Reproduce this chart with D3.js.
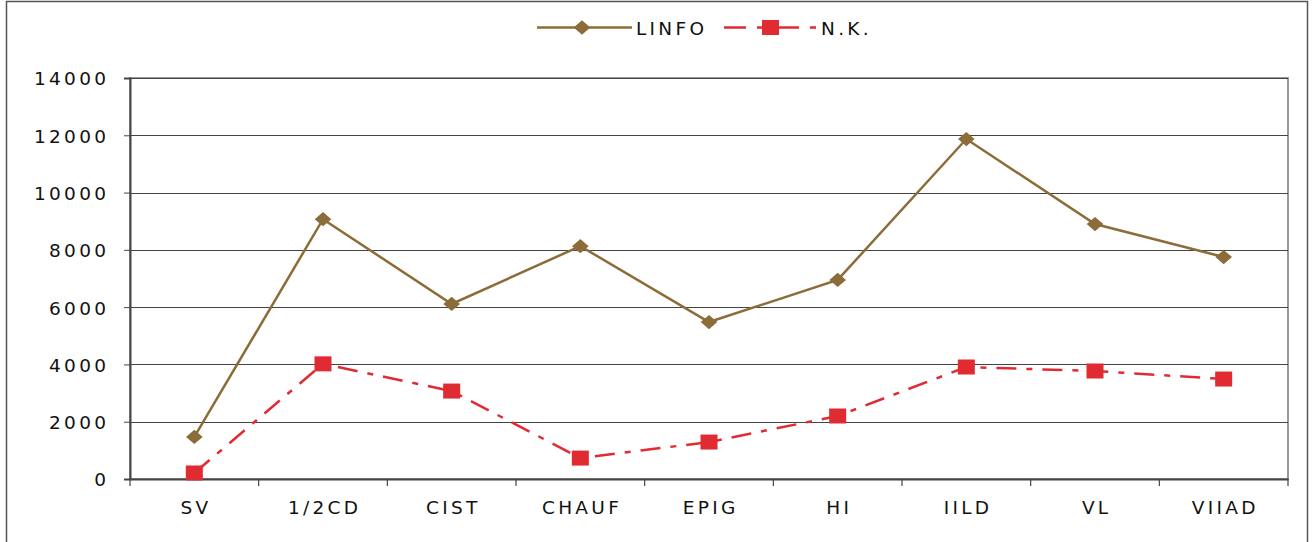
<!DOCTYPE html>
<html><head><meta charset="utf-8">
<script src="https://cdn.jsdelivr.net/npm/d3@7"></script>
<style>body{margin:0;background:#fff}svg{display:block}text{font-family:"DejaVu Sans",Verdana,sans-serif;fill:#111}</style>
</head><body><svg id="c" width="1313" height="542"></svg>
<script>
const categories = ["SV","1/2CD","CIST","CHAUF","EPIG","HI","IILD","VL","VIIAD"];
const linfo = [1470, 9070, 6110, 8130, 5480, 6950, 11870, 8900, 7750];
const nk = [210, 4020, 3070, 730, 1290, 2200, 3910, 3770, 3490];
const yTicks = [0, 2000, 4000, 6000, 8000, 10000, 12000, 14000];
const seriesNames = ["LINFO", "N.K."];

const svg = d3.select("#c");
const L = 130, R = 1288, T = 78, B = 479;
const FS = "18.5px", LS = 3.3;
const x = d3.scaleBand().domain(categories).range([L, R]);
const y = d3.scaleLinear().domain([0, 14000]).range([B, T]);
const brown = "#8c6c38", red = "#e02b33";

// outer border
svg.append("rect").attr("x",6.5).attr("y",1.5).attr("width",1301).attr("height",545).attr("fill","none").attr("stroke","#555").attr("stroke-width",1.5);

// plot frame
svg.append("rect").attr("x",L).attr("y",T).attr("width",R-L).attr("height",B-T).attr("fill","none").attr("stroke","#999").attr("stroke-width",2);

// gridlines
svg.append("g").selectAll("line").data(yTicks.filter(d=>d>0)).join("line")
  .attr("x1",L).attr("x2",R).attr("y1",d=>Math.round(y(d))+0.5).attr("y2",d=>Math.round(y(d))+0.5)
  .attr("stroke","#444").attr("stroke-width",1.2);

// y axis
const yAxis = svg.append("g").attr("transform",`translate(${L},0)`)
  .call(d3.axisLeft(y).tickValues(yTicks).tickSize(6).tickPadding(18 - LS).tickFormat(d3.format("d")));
yAxis.select(".domain").attr("stroke","#444").attr("stroke-width",2);
yAxis.selectAll(".tick line").attr("stroke","#444");
yAxis.selectAll("text").style("font-size",FS).style("letter-spacing",LS+"px").style("font-family",'"DejaVu Sans",Verdana,sans-serif').attr("fill","#111").attr("dy","0.37em");

// x axis
const xAxis = svg.append("g").attr("transform",`translate(0,${B})`)
  .call(d3.axisBottom(x).tickSize(0).tickPadding(22));
xAxis.select(".domain").attr("stroke","#444").attr("stroke-width",2);
xAxis.selectAll("text").style("font-size",FS).style("letter-spacing",LS+"px").style("font-family",'"DejaVu Sans",Verdana,sans-serif').attr("fill","#111").attr("dx",LS/2);
const bounds = categories.map(c=>x(c)).concat([R]);
svg.append("g").selectAll("line").data(bounds).join("line")
  .attr("x1",d=>d).attr("x2",d=>d).attr("y1",B).attr("y2",B+7).attr("stroke","#444").attr("stroke-width",1.2);

const cx = c => x(c) + x.bandwidth()/2;
const line = d3.line().x((d,i)=>cx(categories[i])).y(d=>y(d));

svg.append("path").datum(linfo).attr("d",line).attr("fill","none").attr("stroke",brown).attr("stroke-width",2.5);
svg.append("path").datum(nk).attr("d",line).attr("fill","none").attr("stroke",red).attr("stroke-width",2.5).attr("stroke-dasharray","20,10,6,10");

const diamond = d3.symbol().type(d3.symbolDiamond2).size(160);
svg.append("g").selectAll("path").data(linfo).join("path")
  .attr("transform",(d,i)=>`translate(${cx(categories[i])},${y(d)}) scale(1.05,0.9)`).attr("d",diamond()).attr("fill",brown);
svg.append("g").selectAll("rect").data(nk).join("rect")
  .attr("x",(d,i)=>cx(categories[i])-8.5).attr("y",d=>y(d)-7.5).attr("width",17).attr("height",15).attr("fill",red);

// legend
const lg = svg.append("g");
lg.append("line").attr("x1",537).attr("x2",632).attr("y1",27.5).attr("y2",27.5).attr("stroke",brown).attr("stroke-width",2.5);
lg.append("path").attr("transform","translate(582,27.5) scale(1.05,0.9)").attr("d",diamond()).attr("fill",brown);
lg.append("text").attr("x",636).attr("y",27.5).attr("dy","0.38em").style("font-size",FS).style("letter-spacing",LS+"px").text(seriesNames[0]);
lg.append("line").attr("x1",724).attr("x2",816).attr("y1",27.5).attr("y2",27.5).attr("stroke",red).attr("stroke-width",2.5).attr("stroke-dasharray","22,11,42,11,7");
lg.append("rect").attr("x",762).attr("y",20).attr("width",17).attr("height",15).attr("fill",red);
lg.append("text").attr("x",821).attr("y",27.5).attr("dy","0.38em").style("font-size",FS).style("letter-spacing",LS+"px").text(seriesNames[1]);
</script></body></html>
